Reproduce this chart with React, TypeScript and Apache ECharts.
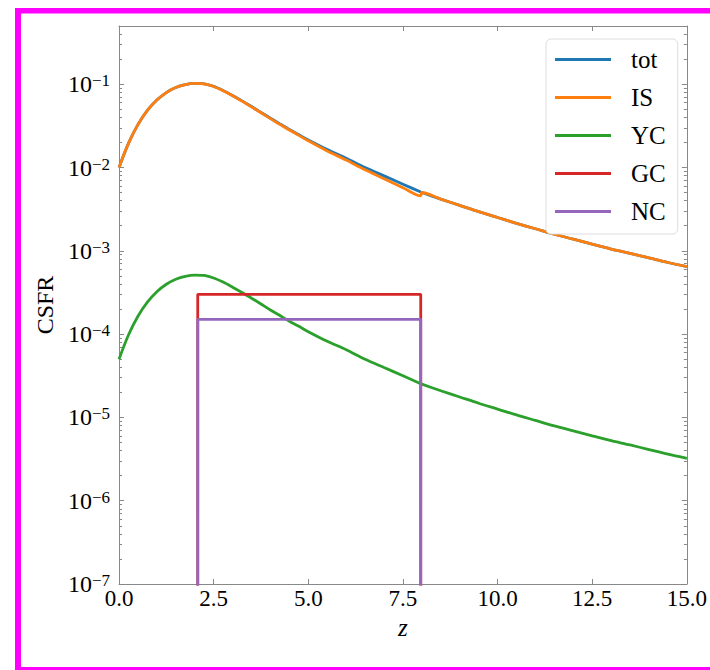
import React, { useEffect, useRef } from "react";
import * as echarts from "echarts";

// redshift grid
const Z = [0, 0.25, 0.5, 0.75, 1, 1.25, 1.5, 1.75, 2, 2.25, 2.5, 2.75, 3, 3.25, 3.5, 3.75, 4, 4.25, 4.5, 4.75, 5, 5.5, 6, 6.5, 7, 7.5, 7.97, 8, 8.5, 9, 9.5, 10, 10.5, 11, 11.5, 12, 12.5, 13, 13.5, 14, 14.5, 15];
// CSFR values
const TOT = [0.01, 0.0195, 0.03273, 0.04842, 0.06457, 0.07943, 0.0912, 0.09886, 0.10233, 0.10116, 0.09441, 0.08414, 0.07328, 0.0631, 0.05395, 0.04592, 0.03908, 0.03342, 0.02864, 0.02472, 0.02138, 0.0164, 0.0129, 0.01, 0.00794, 0.00631, 0.00507, 0.00501, 0.00417, 0.00351, 0.00295, 0.00251, 0.00214, 0.00184, 0.00158, 0.00138, 0.0012, 0.00105, 0.000933, 0.000822, 0.000724, 0.000646];
const IS = [0.01, 0.0195, 0.03273, 0.04842, 0.06457, 0.07943, 0.0912, 0.09886, 0.10233, 0.1007, 0.0939, 0.0836, 0.0728, 0.0626, 0.0535, 0.0455, 0.0386, 0.033, 0.0282, 0.0243, 0.0209, 0.0158, 0.0123, 0.0094, 0.00735, 0.00573, 0.00457, 0.00501, 0.00417, 0.00351, 0.00295, 0.00251, 0.00214, 0.00184, 0.00158, 0.00138, 0.0012, 0.00105, 0.000933, 0.000822, 0.000724, 0.000646];
const YC = [5.0e-5, 9.75e-5, 1.64e-4, 2.42e-4, 3.23e-4, 3.97e-4, 4.56e-4, 4.94e-4, 5.12e-4, 5.06e-4, 4.72e-4, 4.21e-4, 3.66e-4, 3.16e-4, 2.7e-4, 2.3e-4, 1.95e-4, 1.67e-4, 1.43e-4, 1.24e-4, 1.07e-4, 8.2e-5, 6.5e-5, 5.0e-5, 3.97e-5, 3.16e-5, 2.54e-5, 2.51e-5, 2.09e-5, 1.76e-5, 1.48e-5, 1.26e-5, 1.07e-5, 9.2e-6, 7.9e-6, 6.9e-6, 6.0e-6, 5.25e-6, 4.67e-6, 4.11e-6, 3.62e-6, 3.23e-6];
const BOX_Z = [2.08, 2.08, 7.97, 7.97];
const GC = [0, 3e-4, 3e-4, 0];
const NC = [0, 1.5e-4, 1.5e-4, 0];

const SERIES_NAMES = ["tot", "IS", "YC", "GC", "NC"];
const COLORS = ["#1f77b4", "#ff7f0e", "#2ca02c", "#d62728", "#9467bd"];
const X_TICKS = [0, 2.5, 5, 7.5, 10, 12.5, 15];
const Y_DECADES = [-7, -6, -5, -4, -3, -2, -1];
const Y_TOP = 0.5;
const Y_BOTTOM = 1e-7;

const FONT = "Liberation Serif";

const toLog = (v: number) => (v > 0 ? Math.log10(v) : -9);
const pairs = (xs: number[], ys: number[]) => xs.map((x, i) => [x, toLog(ys[i])]);

export default function App() {
  const ref = useRef<HTMLDivElement>(null);
  useEffect(() => {
    if (!ref.current) return;
    const chart = echarts.init(ref.current, null, { renderer: "svg" });
    const yMin = Math.log10(Y_BOTTOM);
    const yMax = Math.log10(Y_TOP);
    const minor: number[] = [];
    for (const n of Y_DECADES) {
      for (let k = 2; k <= 9; k++) {
        const v = Math.log10(k) + n;
        if (v <= yMax + 1e-9) minor.push(v);
      }
    }
    const axisColor = "#888";
    const yBase = (pos: "left" | "right", ticks: number[], len: number, labels: boolean, line: boolean) => ({
      type: "value",
      position: pos,
      min: yMin,
      max: yMax,
      axisLine: { show: line, lineStyle: { color: axisColor, width: 1 } },
      axisTick: { show: true, inside: true, length: len, customValues: ticks, lineStyle: { color: axisColor, width: 1 } },
      axisLabel: labels
        ? {
            show: true,
            customValues: Y_DECADES,
            margin: 9,
            formatter: (v: number) => `{b|10}{s|\u2212${Math.round(-v)}}`,
            rich: {
              b: { fontSize: 24, fontFamily: FONT, color: "#000", lineHeight: 24 },
              s: { fontSize: 17, fontFamily: FONT, color: "#000", lineHeight: 17, verticalAlign: "top" },
            },
          }
        : { show: false },
      splitLine: { show: false },
    });

    const lineSeries = (name: string, data: number[][], color: string, smooth: number | boolean) => ({
      name,
      type: "line",
      data,
      xAxisIndex: 0,
      yAxisIndex: 0,
      showSymbol: false,
      symbol: "none",
      smooth,
      clip: true,
      color,
      lineStyle: { color, width: 2.8 },
      emphasis: { disabled: true },
    });

    chart.setOption({
      animation: false,
      backgroundColor: "#fff",
      textStyle: { fontFamily: FONT },
      grid: { left: 119, right: 19, top: 26, bottom: 86, containLabel: false },
      legend: {
        data: SERIES_NAMES,
        orient: "vertical",
        left: 546,
        top: 39,
        icon: "rect",
        itemWidth: 56,
        itemHeight: 3,
        itemGap: 13,
        padding: [8, 12, 10, 9],
        backgroundColor: "#fff",
        borderColor: "#ddd",
        borderWidth: 1,
        borderRadius: 5,
        selectedMode: false,
        textStyle: { fontSize: 25, fontFamily: FONT, color: "#000", lineHeight: 24, padding: [0, 0, 0, 15] },
      },
      xAxis: [
        {
          type: "value",
          position: "bottom",
          min: 0,
          max: 15,
          interval: 2.5,
          axisLine: { show: true, lineStyle: { color: axisColor, width: 1 } },
          axisTick: { show: true, inside: true, length: 5, customValues: X_TICKS, lineStyle: { color: axisColor } },
          axisLabel: {
            show: true,
            customValues: X_TICKS,
            margin: 2,
            fontSize: 23,
            fontFamily: FONT,
            color: "#000",
            lineHeight: 24,
            formatter: (v: number) => v.toFixed(1),
          },
          splitLine: { show: false },
          name: "z",
          nameLocation: "middle",
          nameGap: 28,
          nameTextStyle: { fontSize: 25, fontFamily: FONT, fontStyle: "italic", color: "#000", lineHeight: 23 },
        },
        {
          type: "value",
          position: "top",
          min: 0,
          max: 15,
          interval: 2.5,
          axisLine: { show: true, lineStyle: { color: axisColor, width: 1 } },
          axisTick: { show: true, inside: true, length: 5, customValues: X_TICKS, lineStyle: { color: axisColor } },
          axisLabel: { show: false },
          splitLine: { show: false },
        },
      ],
      yAxis: [
        {
          ...yBase("left", Y_DECADES, 5, true, true),
          name: "CSFR",
          nameLocation: "middle",
          nameRotate: 90,
          nameGap: 59,
          nameTextStyle: { fontSize: 24, fontFamily: FONT, color: "#000", lineHeight: 23 },
        },
        yBase("left", minor, 3, false, false),
        yBase("right", Y_DECADES, 5, false, true),
        yBase("right", minor, 3, false, false),
      ],
      series: [
        lineSeries("tot", pairs(Z, TOT), COLORS[0], 0.3),
        lineSeries("IS", pairs(Z, IS), COLORS[1], 0.3),
        lineSeries("YC", pairs(Z, YC), COLORS[2], 0.3),
        lineSeries("GC", pairs(BOX_Z, GC), COLORS[3], false),
        lineSeries("NC", pairs(BOX_Z, NC), COLORS[4], false),
      ],
      graphic: [
        { type: "rect", left: 15, top: 8, shape: { width: 6, height: 662 }, style: { fill: "#ff00ff" }, silent: true },
        { type: "rect", left: 15, top: 8, shape: { width: 695, height: 5.5 }, style: { fill: "#ff00ff" }, silent: true },
        { type: "rect", left: 15, top: 667, shape: { width: 695, height: 3 }, style: { fill: "#ff00ff" }, silent: true },
      ],
    });
    return () => chart.dispose();
  }, []);
  return <div ref={ref} style={{ position: "absolute", left: 0, top: 0, width: 710, height: 670 }} />;
}
